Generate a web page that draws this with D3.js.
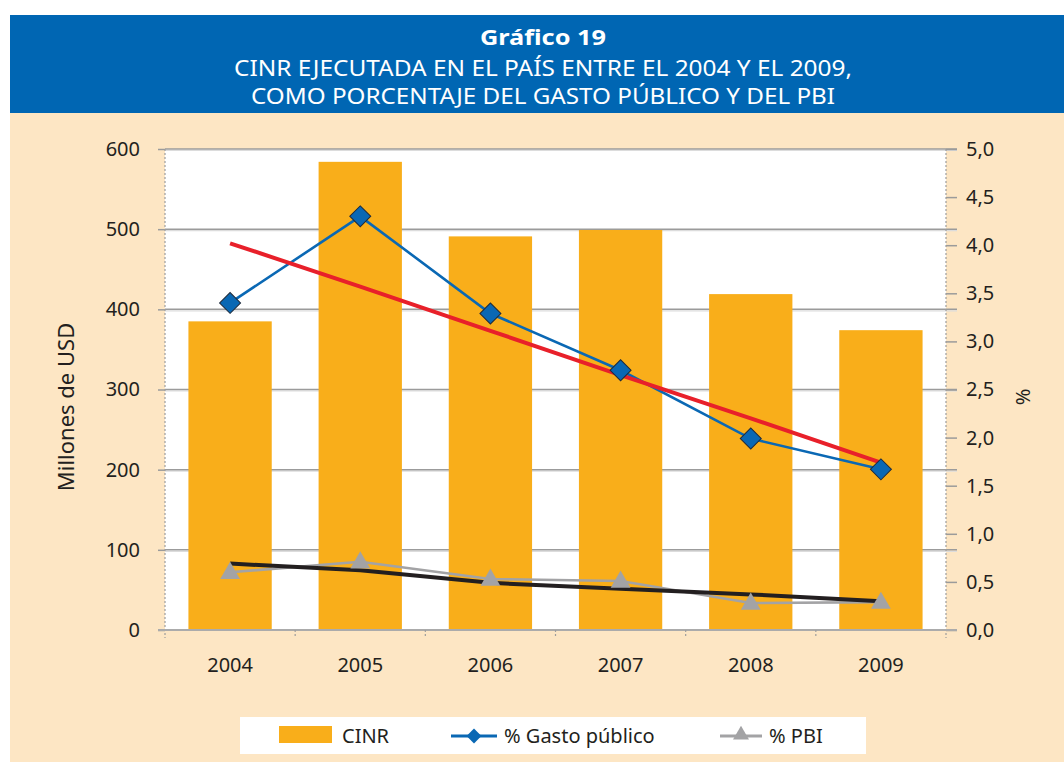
<!DOCTYPE html>
<html>
<head>
<meta charset="utf-8">
<script src="https://cdn.jsdelivr.net/npm/d3@7"></script>
<style>
  html, body { margin: 0; padding: 0; background: #ffffff; }
  svg { display: block; }
  text { font-family: "Noto Sans", "DejaVu Sans", sans-serif; fill: #231F20; }
</style>
</head>
<body>
<svg id="chart" width="1064" height="762"></svg>
<script>
// ---- data ----
const years = ["2004", "2005", "2006", "2007", "2008", "2009"];
const cinr = [385, 584, 491, 499, 419, 374];              // Millones de USD (left axis)
const gastoPublico = [3.40, 4.30, 3.29, 2.70, 1.99, 1.67]; // % (right axis)
const pbi = [0.60, 0.71, 0.53, 0.51, 0.28, 0.29];          // % (right axis)
const trendGasto = [4.02, 3.57, 3.11, 2.65, 2.20, 1.74];   // red trend line (%)
const trendPbi = [0.69, 0.62, 0.49, 0.43, 0.37, 0.30];     // black trend line (%)
const leftTicks = [0, 100, 200, 300, 400, 500, 600];
const rightTicks = [0, 0.5, 1, 1.5, 2, 2.5, 3, 3.5, 4, 4.5, 5];
const titleLines = ["Gráfico 19", "CINR EJECUTADA EN EL PAÍS ENTRE EL 2004 Y EL 2009,", "COMO PORCENTAJE DEL GASTO PÚBLICO Y DEL PBI"];
const legendLabels = ["CINR", "% Gasto público", "% PBI"];

// ---- setup ----
const svg = d3.select("#chart");
const C = {
  band: "#0066B3", beige: "#FDE6C4", bar: "#F9AE1A", blue: "#0A68B4",
  red: "#E8202A", black: "#231F20", gray: "#A3A3A5", grid: "#9B9B9B"
};
const plot = { left: 165, right: 946, top: 149, bottom: 630 };

// background panels
svg.append("rect").attr("x", 10).attr("y", 15).attr("width", 1054).attr("height", 98).attr("fill", C.band);
svg.append("rect").attr("x", 10).attr("y", 113).attr("width", 1054).attr("height", 649).attr("fill", C.beige);

// title
const tl = [
  { y: 45, size: 21, weight: "bold", len: 126 },
  { y: 76, size: 21, weight: "normal", len: 618 },
  { y: 104, size: 21, weight: "normal", len: 584 }
];
titleLines.forEach((t, i) => {
  svg.append("text").attr("x", 543).attr("y", tl[i].y)
    .attr("text-anchor", "middle")
    .style("fill", "#ffffff")
    .style("font-size", tl[i].size + "px")
    .style("font-weight", tl[i].weight)
    .attr("textLength", tl[i].len).attr("lengthAdjust", "spacingAndGlyphs")
    .text(t);
});

// plot area
svg.append("rect").attr("x", plot.left).attr("y", plot.top)
  .attr("width", plot.right - plot.left).attr("height", plot.bottom - plot.top).attr("fill", "#ffffff");

// scales
const x = d3.scaleBand().domain(years).range([plot.left, plot.right]).paddingInner(0.36).paddingOuter(0.18);
const yL = d3.scaleLinear().domain([0, 600]).range([plot.bottom, plot.top]);
const yR = d3.scaleLinear().domain([0, 5]).range([plot.bottom, plot.top]);
const cx = d => x(d) + x.bandwidth() / 2;

// gridlines
const grid = svg.append("g");
leftTicks.filter(t => t > 0).forEach(t => {
  grid.append("line").attr("x1", plot.left).attr("x2", 957).attr("y1", yL(t) + 1.5).attr("y2", yL(t) + 1.5)
    .attr("stroke", "#dcdcdc").attr("stroke-width", 1.2);
  grid.append("line").attr("x1", plot.left).attr("x2", 957).attr("y1", yL(t)).attr("y2", yL(t))
    .attr("stroke", C.grid).attr("stroke-width", 1.5);
});

// bars
svg.append("g").selectAll("rect").data(years).join("rect")
  .attr("x", d => x(d)).attr("width", x.bandwidth())
  .attr("y", (d, i) => yL(cinr[i])).attr("height", (d, i) => yL(0) - yL(cinr[i]))
  .attr("fill", C.bar);

// axes
const axL = svg.append("g").attr("transform", `translate(${plot.left},0)`)
  .call(d3.axisLeft(yL).tickValues(leftTicks).tickSize(7).tickPadding(18));
axL.select(".domain").remove();
axL.selectAll(".tick line").attr("stroke", C.grid).attr("stroke-width", 1.5);
axL.selectAll(".tick text").style("font-size", "20px").style("font-family", "'Noto Sans', sans-serif").attr("fill", "#231F20");

const axR = svg.append("g").attr("transform", `translate(${plot.right},0)`)
  .call(d3.axisRight(yR).tickValues(rightTicks).tickSize(11).tickPadding(9)
    .tickFormat(d => d.toFixed(1).replace(".", ",")));
axR.select(".domain").remove();
axR.selectAll(".tick line").attr("stroke", C.grid).attr("stroke-width", 1.5);
axR.selectAll(".tick text").style("font-size", "20px").style("font-family", "'Noto Sans', sans-serif").attr("fill", "#231F20");

// dashed vertical axis lines
[plot.left, plot.right].forEach(xx => {
  svg.append("line").attr("x1", xx).attr("x2", xx).attr("y1", plot.top).attr("y2", 638)
    .attr("stroke", "#9d9d9d").attr("stroke-width", 1.2).attr("stroke-dasharray", "2,2");
});

// x axis
const axB = svg.append("g").attr("transform", `translate(0,${plot.bottom})`)
  .call(d3.axisBottom(x).tickSize(0).tickPadding(28));
axB.select(".domain").remove();
axB.selectAll(".tick text").style("font-size", "20px").style("font-family", "'Noto Sans', sans-serif").attr("fill", "#231F20");
svg.append("line").attr("x1", 158).attr("x2", 957).attr("y1", plot.bottom).attr("y2", plot.bottom)
  .attr("stroke", "#ababab").attr("stroke-width", 2);
// category boundary ticks
years.slice(1).forEach(y => {
  const bx = x(y) - x.step() * x.paddingInner() / 2;
  svg.append("line").attr("x1", bx).attr("x2", bx).attr("y1", plot.bottom).attr("y2", 638)
    .attr("stroke", "#9d9d9d").attr("stroke-width", 1.2).attr("stroke-dasharray", "2,2");
});

// lines
const line = d3.line().x(d => cx(d.k)).y(d => yR(d.v));
const ser = arr => years.map((k, i) => ({ k, v: arr[i] }));
svg.append("path").attr("d", line(ser(gastoPublico))).attr("fill", "none").attr("stroke", C.blue).attr("stroke-width", 2.6);
svg.append("path").attr("d", line(ser(pbi))).attr("fill", "none").attr("stroke", C.gray).attr("stroke-width", 2.6);
svg.append("path").attr("d", line(ser(trendGasto))).attr("fill", "none").attr("stroke", C.red).attr("stroke-width", 4);
svg.append("path").attr("d", line(ser(trendPbi))).attr("fill", "none").attr("stroke", C.black).attr("stroke-width", 4);

// markers
const diamond = d3.symbol().type(d3.symbolSquare).size(220);
svg.append("g").selectAll("path").data(ser(gastoPublico)).join("path")
  .attr("d", diamond)
  .attr("transform", d => `translate(${cx(d.k)},${yR(d.v)}) rotate(45)`)
  .attr("fill", C.blue).attr("stroke", "#1f2a3a").attr("stroke-width", 1);
const tri = d3.symbol().type(d3.symbolTriangle).size(170);
svg.append("g").selectAll("path").data(ser(pbi)).join("path")
  .attr("d", tri)
  .attr("transform", d => `translate(${cx(d.k)},${yR(d.v) + 1})`)
  .attr("fill", C.gray);

// axis titles
svg.append("text").attr("transform", "translate(74,407) rotate(-90)")
  .attr("text-anchor", "middle").style("font-size", "22px").text("Millones de USD");
svg.append("text").attr("transform", "translate(1030,397) rotate(-90)")
  .attr("text-anchor", "middle").style("font-size", "20px").text("%");

// legend
const lg = svg.append("g");
lg.append("rect").attr("x", 240).attr("y", 717).attr("width", 626).attr("height", 37).attr("fill", "#ffffff");
lg.append("rect").attr("x", 279).attr("y", 726).attr("width", 53).attr("height", 17).attr("fill", C.bar);
lg.append("line").attr("x1", 451).attr("x2", 497).attr("y1", 736).attr("y2", 736).attr("stroke", C.blue).attr("stroke-width", 3);
lg.append("path").attr("d", d3.symbol().type(d3.symbolSquare).size(110))
  .attr("transform", "translate(474,736) rotate(45)").attr("fill", C.blue);
lg.append("line").attr("x1", 720).attr("x2", 762).attr("y1", 736).attr("y2", 736).attr("stroke", C.gray).attr("stroke-width", 3);
lg.append("path").attr("d", d3.symbol().type(d3.symbolTriangle).size(110))
  .attr("transform", "translate(741,735)").attr("fill", C.gray);
const lx = [342, 504, 769];
legendLabels.forEach((t, i) => {
  lg.append("text").attr("x", lx[i]).attr("y", 736).attr("dy", "0.36em").style("font-size", "20px").text(t);
});
</script>
</body>
</html>
